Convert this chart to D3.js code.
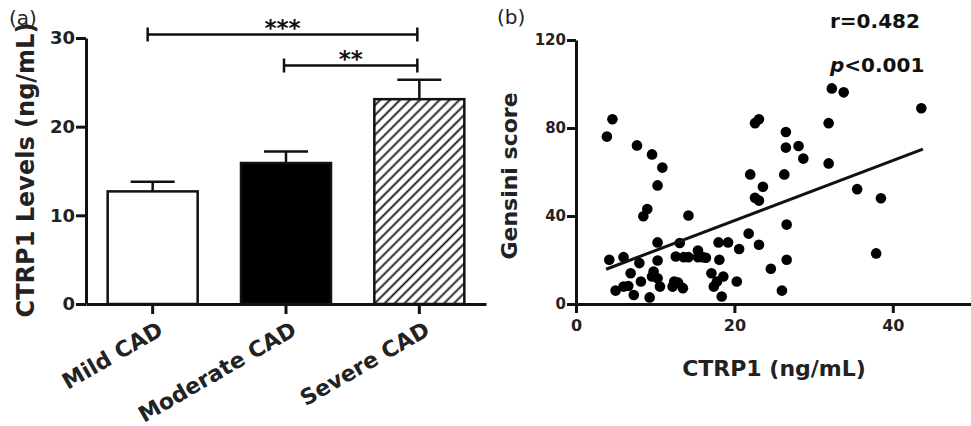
<!DOCTYPE html>
<html>
<head>
<meta charset="utf-8">
<script src="https://cdn.jsdelivr.net/npm/d3@7"></script>
<style>
  body { margin: 0; background: #fff; }
  svg text { font-family: "DejaVu Sans", sans-serif; }
</style>
</head>
<body>
<div id="chart-container"></div>
<script>
// Panel (a) data
const groups = ["Mild CAD", "Moderate CAD", "Severe CAD"];
const means = [12.7, 15.9, 23.1];
const errTops = [13.8, 17.2, 25.3];
const yTicksA = [0, 10, 20, 30];
// significance brackets: from group, to group, level, label
const sigFrom = ["Mild CAD", "Moderate CAD"];
const sigTo = ["Severe CAD", "Severe CAD"];
const sigLevel = [30.4, 26.9];
const sigLabel = ["***", "**"];

// Panel (b) data
const ctrp1 = [4.6, 3.9, 7.7, 9.6, 10.9, 10.3, 9.0, 8.5, 14.2, 22.6, 23.1, 22.0, 23.6, 22.6, 23.1, 21.8, 23.1,
  24.6, 26.0, 26.6, 26.6, 35.5, 38.5, 37.9, 32.3, 33.8, 43.6, 31.9, 26.5, 26.5, 28.1, 28.7, 26.3, 31.9,
  4.2, 6.0, 6.9, 5.0, 6.0, 6.6, 7.3, 8.2, 8.0, 9.3, 9.8, 9.6, 10.3, 10.3, 10.3, 10.6, 12.6, 13.1, 12.4,
  12.9, 13.5, 12.2, 13.6, 14.2, 15.4, 16.0, 15.4, 16.4, 18.1, 18.0, 19.2, 20.6, 17.1, 17.8, 18.6, 17.4,
  18.4, 20.3];
const gensini = [84.0, 76.1, 72.1, 68.0, 62.0, 53.9, 43.2, 39.9, 40.2, 82.2, 84.0, 58.9, 53.3, 48.3, 47.0, 32.0, 26.9,
  16.0, 6.1, 20.1, 36.1, 52.2, 48.1, 23.0, 98.0, 96.2, 89.0, 82.2, 78.2, 71.1, 71.8, 66.1, 58.9, 63.9,
  20.1, 21.3, 14.0, 6.1, 7.9, 8.2, 4.1, 10.2, 18.6, 3.0, 14.8, 12.5, 11.7, 19.8, 28.0, 7.9, 21.6, 27.7, 10.2,
  9.7, 7.2, 7.9, 21.3, 21.3, 21.3, 21.3, 24.3, 21.0, 20.1, 28.0, 28.0, 25.0, 14.0, 10.2, 12.5, 7.9,
  3.4, 10.2];
const fitX = [3.8, 43.8];
const fitY = [15.8, 70.4];
const xTicksB = [0, 20, 40];
const yTicksB = [0, 40, 80, 120];

const width = 971;
const height = 426;

const svg = d3.create("svg")
    .attr("width", width)
    .attr("height", height);

// hatch pattern for the severe bar
svg.append("defs").append("pattern")
    .attr("id", "hatch")
    .attr("patternUnits", "userSpaceOnUse")
    .attr("width", 7)
    .attr("height", 7)
    .attr("patternTransform", "rotate(45)")
  .append("line")
    .attr("x1", 3.5).attr("y1", 0)
    .attr("x2", 3.5).attr("y2", 7)
    .attr("stroke", "#111")
    .attr("stroke-width", 1.8);

function styleAxis(g, size) {
  g.select(".domain").attr("stroke", "#111").attr("stroke-width", 3);
  g.selectAll(".tick line").attr("stroke", "#111").attr("stroke-width", 3);
  g.selectAll(".tick text")
      .attr("fill", "#222")
      .attr("font-family", "DejaVu Sans, sans-serif")
      .attr("font-weight", "bold")
      .attr("font-size", size);
}

// ---------- Panel (a) ----------
const xA = d3.scaleBand()
    .domain(groups)
    .range([86, 486])
    .paddingInner(0.325)
    .paddingOuter(0.1625);

const yA = d3.scaleLinear()
    .domain([0, 30])
    .range([304, 38]);

const fills = ["#fff", "#000", "url(#hatch)"];

svg.append("g")
  .selectAll("rect")
  .data(groups)
  .join("rect")
    .attr("x", d => xA(d))
    .attr("y", (d, i) => yA(means[i]))
    .attr("width", xA.bandwidth())
    .attr("height", (d, i) => yA(0) - yA(means[i]))
    .attr("fill", (d, i) => fills[i])
    .attr("stroke", "#111")
    .attr("stroke-width", 2.5);

// error bars (upper only)
const eb = svg.append("g").attr("stroke", "#111").attr("stroke-width", 2.5);
groups.forEach((g, i) => {
  const cx = xA(g) + xA.bandwidth() / 2;
  eb.append("line")
      .attr("x1", cx).attr("x2", cx)
      .attr("y1", yA(means[i])).attr("y2", yA(errTops[i]));
  eb.append("line")
      .attr("x1", cx - 22).attr("x2", cx + 22)
      .attr("y1", yA(errTops[i])).attr("y2", yA(errTops[i]));
});

svg.append("g")
    .attr("transform", "translate(86,0)")
    .call(d3.axisLeft(yA).tickValues(yTicksA).tickSize(10).tickPadding(1).tickSizeOuter(0))
    .call(g => styleAxis(g, 18));

svg.append("g")
    .attr("transform", "translate(0,304)")
    .call(d3.axisBottom(xA).tickSize(10).tickSizeOuter(0))
    .call(g => styleAxis(g, 22))
    .call(g => g.selectAll(".tick text")
        .attr("text-anchor", "end")
        .attr("y", 0)
        .attr("dy", 0)
        .attr("transform", "translate(12,30) rotate(-30)"));

// significance brackets
const sig = svg.append("g");
sigLabel.forEach((lab, i) => {
  const x1 = xA(sigFrom[i]) + xA.bandwidth() / 2 - (i === 0 ? 5 : 2);
  const x2 = xA(sigTo[i]) + xA.bandwidth() / 2 - 2;
  const y = yA(sigLevel[i]);
  sig.append("path")
      .attr("d", `M${x1},${y - 7}V${y + 7}M${x1},${y}H${x2}M${x2},${y - 7}V${y + 7}`)
      .attr("fill", "none")
      .attr("stroke", "#111")
      .attr("stroke-width", 2.5);
  sig.append("text")
      .attr("x", (x1 + x2) / 2)
      .attr("y", y + 2)
      .attr("text-anchor", "middle")
      .attr("font-weight", "bold")
      .attr("font-size", 23)
      .attr("fill", "#111")
      .text(lab);
});

svg.append("text")
    .attr("x", 9).attr("y", 25)
    .attr("font-size", 20)
    .attr("fill", "#222")
    .text("(a)");

svg.append("text")
    .attr("transform", "translate(34,170) rotate(-90)")
    .attr("text-anchor", "middle")
    .attr("font-weight", "bold")
    .attr("font-size", 24)
    .attr("fill", "#222")
    .text("CTRP1 Levels (ng/mL)");

// ---------- Panel (b) ----------
const xB = d3.scaleLinear()
    .domain([0, 50])
    .range([576, 972]);

const yB = d3.scaleLinear()
    .domain([0, 120])
    .range([304, 40]);

svg.append("g")
    .attr("transform", "translate(576,0)")
    .call(d3.axisLeft(yB).tickValues(yTicksB).tickSize(9).tickPadding(1).tickSizeOuter(0))
    .call(g => styleAxis(g, 15));

svg.append("g")
    .attr("transform", "translate(0,304)")
    .call(d3.axisBottom(xB).tickValues(xTicksB).tickSize(9).tickPadding(7).tickSizeOuter(0))
    .call(g => styleAxis(g, 16));

svg.append("g")
  .selectAll("circle")
  .data(ctrp1)
  .join("circle")
    .attr("cx", d => xB(d))
    .attr("cy", (d, i) => yB(gensini[i]))
    .attr("r", 5.3)
    .attr("fill", "#000");

svg.append("line")
    .attr("x1", xB(fitX[0])).attr("y1", yB(fitY[0]))
    .attr("x2", xB(fitX[1])).attr("y2", yB(fitY[1]))
    .attr("stroke", "#111")
    .attr("stroke-width", 3);

svg.append("text")
    .attr("x", 497).attr("y", 24)
    .attr("font-size", 20)
    .attr("fill", "#222")
    .text("(b)");

svg.append("text")
    .attr("transform", "translate(517,176) rotate(-90)")
    .attr("text-anchor", "middle")
    .attr("font-weight", "bold")
    .attr("font-size", 22)
    .attr("fill", "#222")
    .text("Gensini score");

svg.append("text")
    .attr("x", 774).attr("y", 376)
    .attr("text-anchor", "middle")
    .attr("font-weight", "bold")
    .attr("font-size", 22)
    .attr("fill", "#222")
    .text("CTRP1 (ng/mL)");

svg.append("text")
    .attr("x", 830).attr("y", 28)
    .attr("font-weight", "bold")
    .attr("font-size", 20)
    .attr("fill", "#111")
    .text("r=0.482");

const pText = svg.append("text")
    .attr("x", 830).attr("y", 72)
    .attr("font-weight", "bold")
    .attr("font-size", 20)
    .attr("fill", "#111");
pText.append("tspan").attr("font-style", "italic").text("p");
pText.append("tspan").text("<0.001");

d3.select("#chart-container").append(() => svg.node());
</script>
</body>
</html>
